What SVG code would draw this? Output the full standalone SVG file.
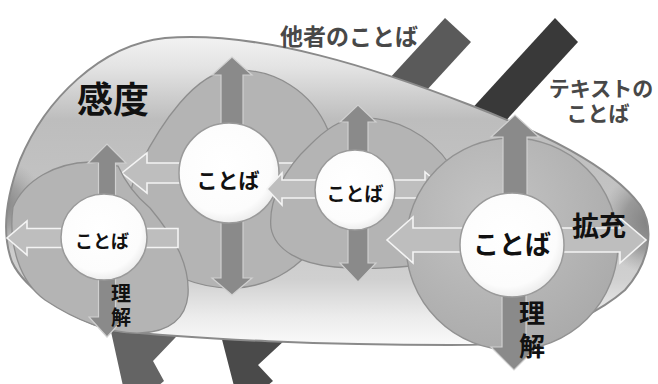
<svg xmlns="http://www.w3.org/2000/svg" width="658" height="384" viewBox="0 0 658 384">
<style>
.petal{fill:#b4b4b4;stroke:#8e8e8e;stroke-width:1.3}
.disk{fill:url(#diskG);stroke:#929292;stroke-width:1.4}
.va{fill:#8a8a8a;stroke:#d0d0d0;stroke-width:1.2}
.ha{fill:#bebebe;stroke:#f4f4f4;stroke-width:1.6}
.core{fill:url(#coreG);stroke:#9a9a9a;stroke-width:1.5}
.lbl{font-family:"Noto Sans CJK JP","Noto Sans CJK SC",sans-serif;font-weight:700;fill:#111;text-anchor:middle}
.cap{font-family:"Noto Sans CJK JP","Noto Sans CJK SC",sans-serif;font-weight:700;fill:#484848}
</style>
<defs>
<linearGradient id="blobG" gradientUnits="userSpaceOnUse" x1="0" y1="35" x2="0" y2="348">
<stop offset="0" stop-color="#f3f3f3"/>
<stop offset="0.1" stop-color="#e4e4e4"/>
<stop offset="0.27" stop-color="#bdbdbd"/>
<stop offset="0.5" stop-color="#c3c3c3"/>
<stop offset="0.78" stop-color="#d0d0d0"/>
<stop offset="0.9" stop-color="#ececec"/>
<stop offset="1" stop-color="#fbfbfb"/>
</linearGradient>
<radialGradient id="rimR" gradientUnits="userSpaceOnUse" cx="652" cy="222" r="52">
<stop offset="0" stop-color="#7e7e7e" stop-opacity="1"/>
<stop offset="0.55" stop-color="#8e8e8e" stop-opacity="0.8"/>
<stop offset="1" stop-color="#a0a0a0" stop-opacity="0"/>
</radialGradient>
<radialGradient id="rimL" gradientUnits="userSpaceOnUse" cx="0" cy="205" r="45">
<stop offset="0" stop-color="#7e7e7e" stop-opacity="1"/>
<stop offset="0.5" stop-color="#909090" stop-opacity="0.7"/>
<stop offset="1" stop-color="#a0a0a0" stop-opacity="0"/>
</radialGradient>
<radialGradient id="coreG" cx="0.45" cy="0.42" r="0.6">
<stop offset="0" stop-color="#ffffff"/>
<stop offset="0.8" stop-color="#fcfcfc"/>
<stop offset="1" stop-color="#ebebeb"/>
</radialGradient>
<radialGradient id="diskG" cx="0.4" cy="0.35" r="0.7">
<stop offset="0" stop-color="#c4c4c4"/>
<stop offset="1" stop-color="#aaaaaa"/>
</radialGradient>
<clipPath id="blobClip">
<path d="M110,330 C70,318 25,290 12,262 C2,235 5,200 20,160 C45,100 100,45 165,38 C260,30 380,70 470,105 C540,132 610,165 640,205 C655,228 650,262 625,290 C600,312 560,330 530,338 C500,345 470,345 450,345 C330,345 200,340 110,330 Z"/>
</clipPath>
</defs>
<rect width="658" height="384" fill="#ffffff"/>

<g id="connectors">
<polygon points="445,18 471,42 403,116 377,92" fill="#5a5a5a"/>
<polygon points="555,18 578,42 490,138 467,114" fill="#393939"/>
<polygon points="108,318 196,316 153,361 164,381 158,386 123,386" fill="#646464"/>
<polygon points="218,324 299,327 258,365 273,381 267,386 234,386" fill="#4a4a4a"/>
</g>

<g id="sensitivity-area">
<path d="M110,330 C70,318 25,290 12,262 C2,235 5,200 20,160 C45,100 100,45 165,38 C260,30 380,70 470,105 C540,132 610,165 640,205 C655,228 650,262 625,290 C600,312 560,330 530,338 C500,345 470,345 450,345 C330,345 200,340 110,330 Z" fill="url(#blobG)"/>
<g clip-path="url(#blobClip)">
<ellipse cx="652" cy="222" rx="52" ry="75" fill="url(#rimR)"/>
<ellipse cx="0" cy="205" rx="45" ry="100" fill="url(#rimL)"/>
</g>
<path d="M110,330 C70,318 25,290 12,262 C2,235 5,200 20,160 C45,100 100,45 165,38 C260,30 380,70 470,105 C540,132 610,165 640,205 C655,228 650,262 625,290 C600,312 560,330 530,338 C500,345 470,345 450,345 C330,345 200,340 110,330 Z" fill="none" stroke="#8a8a8a" stroke-width="2"/>
<text class="lbl" x="113" y="113" font-size="36">感度</text>
</g>

<g id="node-top">
<path class="petal" d="M232,70 C275,68 312,92 328,130 C340,165 335,215 315,245 C295,272 265,287 235,288 C200,289 165,275 145,252 C125,228 125,195 140,165 C160,125 195,72 232,70 Z"/>
<path class="va" d="M221,150 L221,75 L212,75 L232,57 L252,75 L243,75 L243,150 Z"/>
<path class="va" d="M221,200 L221,278 L212,278 L232,295 L252,278 L243,278 L243,200 Z"/>
<path class="ha" d="M205,163 L147,163 L147,153 L122,173 L147,193 L147,183 L205,183 Z"/>
<path class="ha" d="M255,163 L312,163 L312,153 L332,173 L312,193 L312,183 L255,183 Z"/>
<circle class="core" cx="229" cy="173" r="50"/>
<text class="lbl" x="228" y="188" font-size="21">ことば</text>
</g>

<g id="node-left">
<path class="petal" d="M13,207 C25,180 55,163 90,162 L118,166 C126,184 138,198 150,208 C175,238 190,265 188,295 C186,318 170,332 140,333 C110,334 75,320 45,300 C20,282 8,245 13,207 Z"/>
<path class="va" d="M98.5,215 L98.5,163 L88,163 L107,144 L126,163 L115.5,163 L115.5,215 Z"/>
<path class="va" d="M98.5,260 L98.5,317 L89,317 L107,337 L125,317 L115.5,317 L115.5,260 Z"/>
<path class="ha" d="M85,228.5 L27,228.5 L27,221 L7,238 L27,255 L27,247.5 L85,247.5 Z"/>
<path class="ha" d="M125,228.5 L178,228.5 L178,247.5 L125,247.5 Z"/>
<circle class="core" cx="104" cy="237" r="43"/>
<text class="lbl" x="102" y="248" font-size="18">ことば</text>
<text class="lbl" x="121" font-size="20"><tspan x="121" y="301">理</tspan><tspan x="121" y="325">解</tspan></text>
</g>

<g id="node-middle">
<path class="petal" d="M358,118 C395,116 430,135 450,165 L440,262 C405,268 365,270 335,267 C300,264 275,250 271,228 C268,200 285,168 310,145 C325,130 340,119 358,118 Z"/>
<path class="va" d="M348,170 L348,122 L340,122 L358,105 L376,122 L368,122 L368,170 Z"/>
<path class="va" d="M348,210 L348,263 L340,263 L358,282 L376,263 L368,263 L368,210 Z"/>
<path class="ha" d="M335,180 L282,180 L282,173 L267,189 L282,205 L282,198 L335,198 Z"/>
<path class="ha" d="M375,180 L425,180 L425,172 L445,189 L425,206 L425,198 L375,198 Z"/>
<circle class="core" cx="355" cy="190" r="40"/>
<text class="lbl" x="355" y="201" font-size="19">ことば</text>
</g>

<g id="node-right">
<circle class="disk" cx="512" cy="244" r="106"/>
<path class="va" d="M503,220 L503,137 L491,137 L515,115 L539,137 L527,137 L527,220 Z"/>
<path class="va" d="M502,270 L502,347 L491,347 L514,370 L537,347 L526,347 L526,270 Z"/>
<path class="ha" d="M480,228 L413,228 L413,217 L387,240 L413,263 L413,252 L480,252 Z"/>
<path class="ha" d="M545,228 L620,228 L620,218 L646,240 L620,263 L620,252 L545,252 Z"/>
<circle class="core" cx="512" cy="245" r="52"/>
<text class="lbl" x="512" y="254" font-size="26">ことば</text>
<text class="lbl" x="599" y="236" font-size="27">拡充</text>
<text class="lbl" x="532" font-size="26"><tspan x="532" y="323">理</tspan><tspan x="532" y="356">解</tspan></text>
</g>

<g id="labels">
<text class="cap" x="280" y="45" font-size="23">他者のことば</text>
<text class="cap" x="601" y="96" font-size="21" text-anchor="middle">テキストの</text>
<text class="cap" x="598" y="121" font-size="21" text-anchor="middle">ことば</text>
</g>
</svg>
